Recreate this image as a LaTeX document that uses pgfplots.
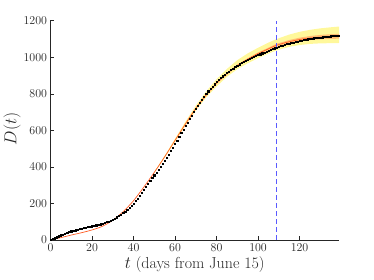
\documentclass[border=0pt]{standalone}
\usepackage{pgfplots}
\pgfplotsset{compat=1.18}
\usetikzlibrary{calc}
\definecolor{axgray}{rgb}{0.15,0.15,0.15}
\definecolor{bandyellow}{RGB}{255,248,155}
\definecolor{bandorange}{RGB}{255,190,115}
\definecolor{fitorange}{RGB}{255,95,40}
\definecolor{vblue}{RGB}{90,90,255}
\begin{document}
\begin{tikzpicture}
\begin{axis}[
  scale only axis, width=288.5bp, height=219.3bp,
  xmin=0, xmax=139, ymin=0, ymax=1200,
  axis x line*=bottom, axis y line*=left,
  axis line style={axgray, line width=0.5bp},
  tick align=inside, major tick length=3.5bp,
  every tick/.style={axgray, line width=0.5bp},
  xtick={0,20,...,120}, ytick={0,200,...,1200},
  /pgf/number format/1000 sep={},
  tick label style={font=\fontsize{11.8}{13}\selectfont, text=axgray},
  label style={font=\fontsize{16}{18}\selectfont, text=axgray},
  xlabel={$t$ (days from June 15)},
  ylabel={$D(t)$},
  xlabel style={at={(axis description cs:0.5,-0.114)}, anchor=center},
  ylabel style={at={(axis description cs:-0.133,0.506)}, anchor=center},
  clip=false,
]
% yellow confidence band
\addplot[fill=bandyellow, draw=none] coordinates {
 (50,373) (55,461) (60,554) (65,647) (70,735) (75,813) (80,880) (85,936) (90,984) (95,1021) (100,1052) (105,1080) (109,1100) (115,1124) (120,1139) (125,1150) (130,1158) (135,1164) (139,1168)
 (139,1078) (135,1077) (130,1076) (125,1073) (120,1067) (115,1057) (109,1038) (105,1020) (100,995) (95,967) (90,935) (85,893) (80,840) (75,780) (70,707) (65,625) (60,537) (55,450) (50,367)
} -- cycle;
% inner orange band
\addplot[fill=bandorange, draw=none] coordinates {
 (60,547) (70,723) (80,862) (90,960) (100,1026) (109,1074) (115,1094) (120,1107) (125,1116) (130,1122) (135,1126) (139,1128)
 (139,1102) (135,1100) (130,1098) (125,1094) (120,1087) (115,1076) (109,1058) (100,1014) (90,950) (80,854) (70,717) (60,543)
} -- cycle;
% fitted curve
\addplot[fitorange, line width=0.7bp, smooth] coordinates {
 (0,0) (5,13) (10,27) (15,40) (20,55) (25,75) (30,108) (35,155) (40,215) (45,290) (50,370) (55,455) (60,545) (65,635) (70,720) (75,795) (80,858) (85,912) (90,955) (95,990) (100,1020) (105,1046) (109,1066) (115,1085) (120,1097) (125,1105) (130,1110) (135,1113) (139,1115)
};
% data
\addplot[only marks, mark=square*, mark size=0.6bp, mark options={black, draw=none}] table[x expr=\coordindex, y index=0] {
0
5
10
15
21
26
31
35
40
44
48
51
54
57
60
63
66
68
71
73
76
79
81
84
87
90
94
98
102
107
112
118
125
132
140
148
157
167
177
188
200
214
228
243
259
275
291
307
323
339
355
370
386
401
417
432
450
468
487
506
525
545
565
585
605
625
644
663
682
701
720
737
753
769
785
800
814
827
840
853
865
876
886
896
906
915
923
931
939
947
955
962
969
975
982
988
993
998
1003
1008
1013
1017
1022
1026
1031
1035
1040
1045
1050
1054
1058
1062
1065
1068
1072
1075
1078
1081
1084
1087
1090
1092
1094
1097
1099
1101
1103
1104
1106
1107
1109
1110
1111
1113
1114
1115
1116
1117
1118
1119
};
% vertical dashed line
\addplot[vblue, line width=0.7bp, dash pattern=on 5bp off 3bp] coordinates {(109,0) (109,1200)};
\end{axis}
\pgfresetboundingbox
\path ($(current axis.south west)+(-50.5bp,-40bp)$) rectangle ($(current axis.north east)+(35bp,20.7bp)$);
\end{tikzpicture}
\end{document}
